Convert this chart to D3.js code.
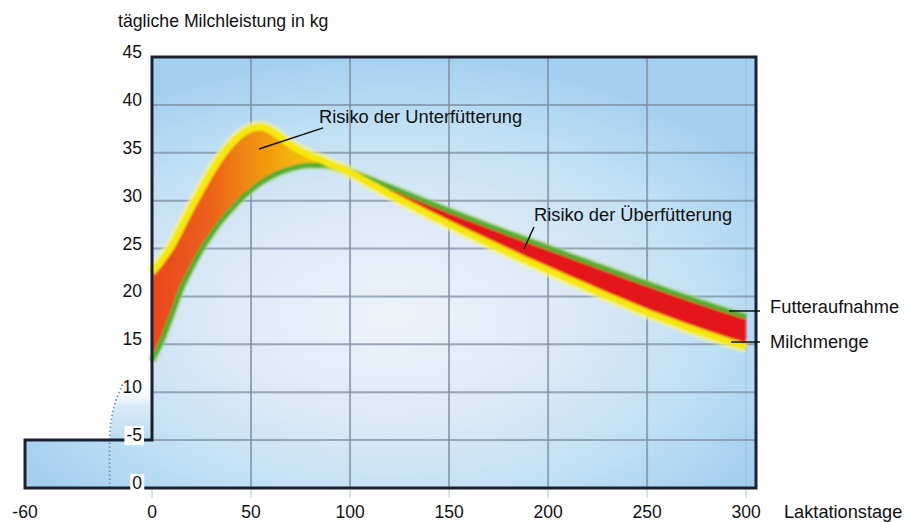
<!DOCTYPE html>
<html><head><meta charset="utf-8">
<script src="https://cdn.jsdelivr.net/npm/d3@7"></script>
<style>
html,body{margin:0;padding:0;background:#fff;}
svg{display:block;font-family:"Liberation Sans",Arial,sans-serif;}
</style></head>
<body><svg id="c" width="906" height="522"></svg>
<script>
// ---- data ----
const days = [0,5,10,15,20,25,30,35,40,45,50,55,60,65,70,75,80,85,90,95,100,
  110,120,130,140,150,160,170,180,190,200,210,220,230,240,250,260,270,280,290,300];
const milk = [22.5,23.8,25.3,27.3,29.3,31.2,33.0,34.6,35.9,36.9,37.5,37.7,37.3,36.6,35.8,35.2,34.7,34.3,33.8,33.4,32.95,
  31.8,30.69,29.61,28.58,27.56,26.56,25.58,24.61,23.66,22.75,21.83,20.93,20.03,19.17,18.33,17.55,16.79,16.07,15.38,14.73];
const feed = [13.3,15.4,18.1,20.9,23.0,24.9,26.5,27.9,29.1,30.2,31.1,31.9,32.5,33.0,33.35,33.6,33.7,33.7,33.6,33.3,33.05,
  32.25,31.44,30.61,29.78,28.96,28.16,27.38,26.61,25.86,25.10,24.33,23.58,22.83,22.07,21.33,20.60,19.89,19.19,18.52,17.88];
const xTicks = [-60,0,50,100,150,200,250,300];
const xTickLabels = ["-60","0","50","100","150","200","250","300"];
const yTicks = [0,5,10,15,20,25,30,35,40,45];
const yTickLabels = ["0","-5","10","15","20","25","30","35","40","45"];
const crossDay = 100;
const title = "tägliche Milchleistung in kg";
const xTitle = "Laktationstage";
const notes = [
  {text:"Risiko der Unterfütterung", tx:84.3, ty:38.1, x1:86.4, y1:37.6, x2:54.0, y2:35.4},
  {text:"Risiko der Überfütterung", tx:192.9, ty:27.9, x1:192.9, y1:27.25, x2:187.8, y2:24.95},
  {text:"Futteraufnahme", tx:312.1, ty:18.27, x1:291.4, y1:18.48, x2:307.0, y2:18.48},
  {text:"Milchmenge", tx:312.1, ty:14.62, x1:292.4, y1:15.24, x2:307.0, y2:15.24}
];

// ---- scales ----
const svg = d3.select("#c");
const x = d3.scaleLinear().domain([-60,0,305]).range([25,152,756]);
const y = d3.scaleLinear().domain([0,45]).range([488,57]);

const defs = svg.append("defs");
const bg = defs.append("radialGradient").attr("id","bg").attr("cx",0.5).attr("cy",0.6).attr("r",0.6);
[[0,"#eef3f9"],[0.4,"#dceaf7"],[0.75,"#bfdff4"],[1,"#a4d0ef"]].forEach(s=>bg.append("stop").attr("offset",s[0]).attr("stop-color",s[1]));
const og = defs.append("linearGradient").attr("id","og").attr("gradientUnits","userSpaceOnUse")
  .attr("x1",x(0)).attr("x2",x(crossDay)).attr("y1",0).attr("y2",0);
[[0,"#e8461f"],[0.3,"#ec611a"],[0.5,"#f08c12"],[0.7,"#f5b20a"],[1,"#f8d800"]].forEach(s=>og.append("stop").attr("offset",s[0]).attr("stop-color",s[1]));
const lb = defs.append("linearGradient").attr("id","lb").attr("x1",0).attr("x2",0).attr("y1",1).attr("y2",0);
[[0,"#b9dcf2",1],[0.6,"#cfe6f6",0.8],[1,"#ffffff",0]].forEach(s=>lb.append("stop").attr("offset",s[0]).attr("stop-color",s[1]).attr("stop-opacity",s[2]));
defs.append("filter").attr("id","soft").attr("x","-5%").attr("y","-5%").attr("width","110%").attr("height","110%")
  .append("feGaussianBlur").attr("stdDeviation",0.9);

// ---- frame area ----
const framePts = [[0,45],[305,45],[305,0],[-60,0],[-60,5],[0,5]];
const framePath = "M" + framePts.map(p=>[x(p[0]),y(p[1])].join(",")).join("L") + "Z";
svg.append("path").attr("d",framePath).attr("fill","url(#bg)");

// light blue wedge left of the axis
const wedge = [[-20,5],[-18.5,8],[-13.6,11],[0,11],[0,5]];
svg.append("path").attr("d","M"+wedge.map(p=>[x(p[0]),y(p[1])].join(",")).join("L")+"Z").attr("fill","url(#lb)");
svg.append("path").attr("d", d3.line().curve(d3.curveMonotoneY)(
    [[-20,0],[-20,5],[-18.5,8],[-13.6,11]].map(p=>[x(p[0]),y(p[1])])))
  .attr("fill","none").attr("stroke","#7f9bb8").attr("stroke-width",2).attr("stroke-dasharray","1.5,2.5");

// ---- grid ----
const grid = svg.append("g").attr("stroke","#7d8ea2").attr("stroke-opacity",0.75);
yTicks.filter(v=>v>0 && v<45).forEach(v=>{
  grid.append("line").attr("x1",x(0)).attr("x2",x(305)).attr("y1",y(v)).attr("y2",y(v)).attr("stroke-width",2);
});
xTicks.filter(d=>d>0 && d<300).forEach(d=>{
  grid.append("line").attr("x1",x(d)).attr("x2",x(d)).attr("y1",y(0)).attr("y2",y(45)).attr("stroke-width",2);
});
xTicks.filter(d=>d>=0).forEach(d=>{
  grid.append("line").attr("x1",x(d)).attr("x2",x(d)).attr("y1",y(0)).attr("y2",y(0)+10).attr("stroke-width",1).attr("stroke-opacity",0.5);
});
grid.append("line").attr("x1",x(300)).attr("x2",x(300)).attr("y1",y(0)).attr("y2",y(45)).attr("stroke-width",1).attr("stroke-opacity",0.25);

// ---- bands ----
const pts = days.map((d,i)=>({d, m:milk[i], f:feed[i]}));
const early = pts.filter(p=>p.d<=crossDay);
const late = pts.filter(p=>p.d>=crossDay);
const band = svg.append("g").attr("filter","url(#soft)");
const lineM = d3.line().x(p=>x(p.d)).y(p=>y(p.m)).curve(d3.curveMonotoneX);
const lineF = d3.line().x(p=>x(p.d)).y(p=>y(p.f)).curve(d3.curveMonotoneX);
band.append("path").attr("d",lineM(pts)).attr("fill","none").attr("stroke","#fbf48c").attr("stroke-width",13).attr("stroke-opacity",0.65);
band.append("path").attr("d",lineF(pts)).attr("fill","none").attr("stroke","#b4dc92").attr("stroke-width",9).attr("stroke-opacity",0.55);
const area = d3.area().x(p=>x(p.d)).curve(d3.curveMonotoneX);
band.append("path").attr("d",area.y0(p=>y(p.f)).y1(p=>y(p.m))(early)).attr("fill","url(#og)");
band.append("path").attr("d",area.y0(p=>y(p.m)).y1(p=>y(p.f))(late)).attr("fill","#e4121c");
band.append("path").attr("d",lineF(pts)).attr("fill","none").attr("stroke","#55ad32").attr("stroke-width",5);
band.append("path").attr("d",lineM(pts)).attr("fill","none").attr("stroke","#f6e80a").attr("stroke-width",7);

// ---- frame outline ----
svg.append("path").attr("d",framePath).attr("fill","none").attr("stroke","#1b2130").attr("stroke-width",3).attr("stroke-linejoin","miter");

// ---- axis labels ----
const fs = 17.5;
yTicks.forEach((v,i)=>{
  const t = svg.append("text").attr("x",142).attr("y",y(v)+1).attr("text-anchor","end")
    .attr("font-size",fs).attr("fill","#111").text(yTickLabels[i]);
  if (v <= 5) {
    const b = t.node().getBBox();
    svg.insert("rect", () => t.node()).attr("x",b.x-2).attr("y",b.y+1).attr("width",b.width+4).attr("height",b.height-1).attr("fill","#fff");
  }
});
xTicks.forEach((d,i)=>{
  svg.append("text").attr("x",x(d)).attr("y",518).attr("text-anchor","middle")
    .attr("font-size",fs).attr("fill","#111").text(xTickLabels[i]);
});
svg.append("text").attr("x",784).attr("y",518).attr("font-size",18.2).attr("fill","#111").text(xTitle);
svg.append("text").attr("x",118).attr("y",27).attr("font-size",17.7).attr("fill","#111").text(title);

// ---- annotations ----
notes.forEach(n=>{
  svg.append("line").attr("x1",x(n.x1)).attr("y1",y(n.y1)).attr("x2",x(n.x2)).attr("y2",y(n.y2))
    .attr("stroke","#111").attr("stroke-width",1.5);
  svg.append("text").attr("x",x(n.tx)).attr("y",y(n.ty)).attr("font-size",18.3).attr("fill","#111").text(n.text);
});
</script>
</body></html>
